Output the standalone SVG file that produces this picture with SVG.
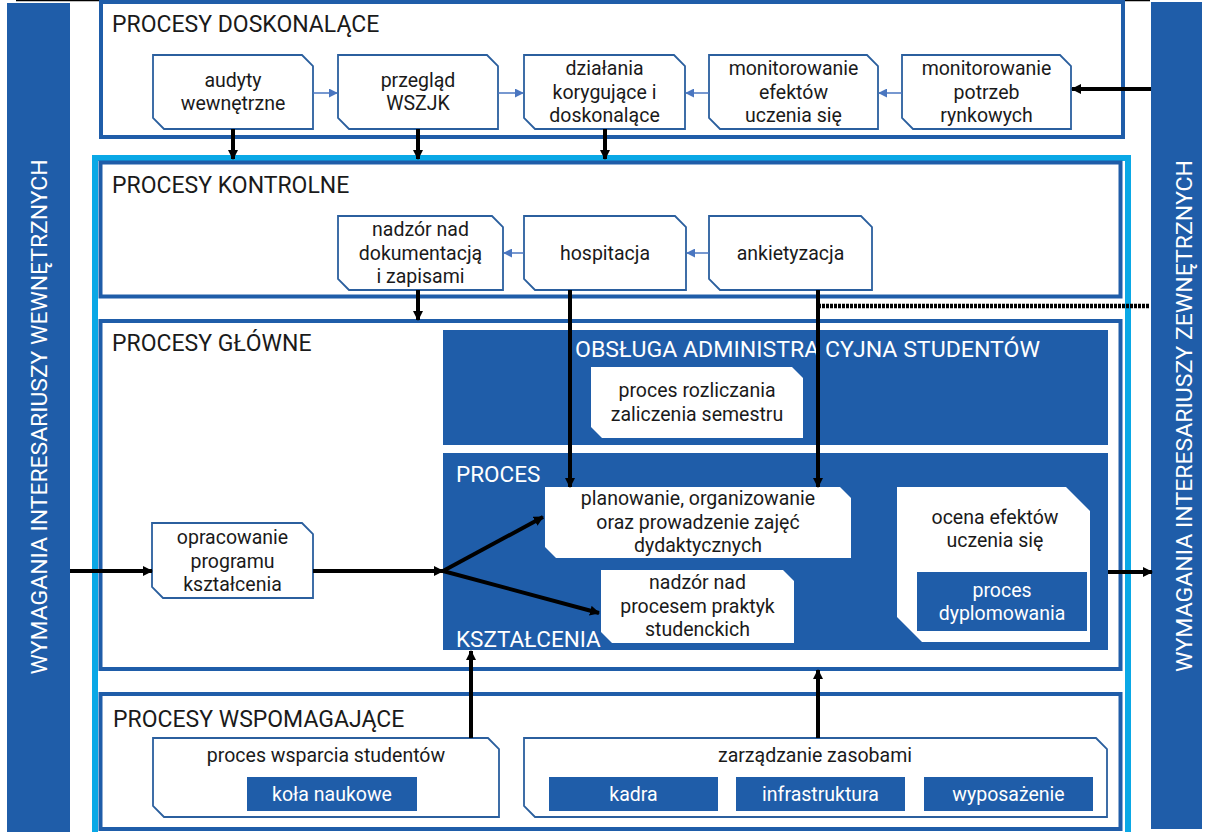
<svg xmlns="http://www.w3.org/2000/svg" width="1208" height="832" viewBox="0 0 1208 832">
<style>
.sec{fill:#fff;stroke:#1f5da9;stroke-width:4}
.node{fill:#fff;stroke:#2b5f9e;stroke-width:1.8}
.wnode{fill:#fff}
.bbox{fill:#1f5da9}
text{font-family:Roboto,"Liberation Sans",sans-serif;font-weight:400}
.t{font-size:19.5px;fill:#1a1a1a;text-anchor:middle}
.tw{font-size:19.5px;fill:#fff;text-anchor:middle}
.title{font-size:23px;fill:#1a1a1a}
.wtitle{font-size:22.5px;fill:#fff}
.side{font-size:22.5px;fill:#fff;text-anchor:middle}
.blk{stroke:#000;stroke-width:4;fill:none}
.blu{stroke:#4a76c0;stroke-width:1.5;fill:none}
</style>
<defs>
<marker id="ab" viewBox="0 0 10 10" refX="9" refY="5" markerWidth="10" markerHeight="10" markerUnits="userSpaceOnUse" orient="auto">
<path d="M0,0 L10,5 L0,10 Z" fill="#000"/>
</marker>
<marker id="au" viewBox="0 0 10 10" refX="9" refY="5" markerWidth="9" markerHeight="9" markerUnits="userSpaceOnUse" orient="auto">
<path d="M0,0 L10,5 L0,10 Z" fill="#4a76c0"/>
</marker>
</defs>
<rect width="1208" height="832" fill="#fff"/>
<line x1="16" y1="0.5" x2="1150" y2="0.5" stroke="#000" stroke-width="1.5"/>

<g id="left-panel">
<rect x="7" y="3" width="63" height="829" class="bbox"/>
<text class="side" transform="translate(47,417) rotate(-90)" textLength="515" lengthAdjust="spacingAndGlyphs">WYMAGANIA INTERESARIUSZY WEWNĘTRZNYCH</text>
</g>
<g id="right-panel">
<rect x="1151" y="2" width="51" height="827" class="bbox"/>
<text class="side" transform="translate(1192,416) rotate(-90)" textLength="512" lengthAdjust="spacingAndGlyphs">WYMAGANIA INTERESARIUSZY ZEWNĘTRZNYCH</text>
</g>

<g id="doskonalace">
<rect x="101" y="2" width="1022" height="135" class="sec"/>
<text class="title" x="112" y="31.5">PROCESY DOSKONALĄCE</text>
</g>

<g id="frame">
<rect x="95" y="158" width="1033" height="680" fill="none" stroke="#0aa8e6" stroke-width="6"/>
</g>
<g id="kontrolne">
<rect x="100.5" y="162.5" width="1020" height="134" class="sec"/>
<text class="title" x="112" y="193">PROCESY KONTROLNE</text>
</g>
<g id="glowne">
<rect x="100.5" y="321" width="1020" height="348" class="sec"/>
<text class="title" x="112" y="351">PROCESY GŁÓWNE</text>
</g>
<g id="wspomagajace">
<rect x="100.5" y="694" width="1020" height="135" class="sec"/>
<text class="title" x="113" y="727">PROCESY WSPOMAGAJĄCE</text>
</g>

<g id="n-audyty">
<path class="node" d="M153,55 H302 L313,66 V129 H164 L153,118 Z"/>
<text class="t" x="233" y="86.5">audyty</text>
<text class="t" x="233" y="110">wewnętrzne</text>
</g>
<g id="n-przeglad">
<path class="node" d="M338,55 H487 L498,66 V129 H349 L338,118 Z"/>
<text class="t" x="418" y="86.5">przegląd</text>
<text class="t" x="418" y="110">WSZJK</text>
</g>
<g id="n-dzialania">
<path class="node" d="M524,55 H674 L685,66 V129 H535 L524,118 Z"/>
<text class="t" x="604.5" y="75">działania</text>
<text class="t" x="604.5" y="98.5">korygujące i</text>
<text class="t" x="604.5" y="122">doskonalące</text>
</g>
<g id="n-monit-efekty">
<path class="node" d="M709,55 H867 L878,66 V129 H720 L709,118 Z"/>
<text class="t" x="793.5" y="75">monitorowanie</text>
<text class="t" x="793.5" y="98.5">efektów</text>
<text class="t" x="793.5" y="122">uczenia się</text>
</g>
<g id="n-monit-potrzeby">
<path class="node" d="M902,55 H1060 L1071,66 V129 H913 L902,118 Z"/>
<text class="t" x="986.5" y="75">monitorowanie</text>
<text class="t" x="986.5" y="98.5">potrzeb</text>
<text class="t" x="986.5" y="122">rynkowych</text>
</g>

<g id="n-nadzor-dok">
<path class="node" d="M338,216 H492 L503,227 V290 H349 L338,279 Z"/>
<text class="t" x="420.5" y="236">nadzór nad</text>
<text class="t" x="420.5" y="259.5">dokumentacją</text>
<text class="t" x="420.5" y="283">i zapisami</text>
</g>
<g id="n-hospitacja">
<path class="node" d="M524,216 H675 L686,227 V290 H535 L524,279 Z"/>
<text class="t" x="605" y="259.5">hospitacja</text>
</g>
<g id="n-ankietyzacja">
<path class="node" d="M709,216 H861 L872,227 V290 H720 L709,279 Z"/>
<text class="t" x="790.5" y="259.5">ankietyzacja</text>
</g>

<g id="obsluga">
<rect x="443" y="330" width="665" height="115" class="bbox"/>
<text class="wtitle" x="575" y="357" textLength="465" lengthAdjust="spacingAndGlyphs">OBSŁUGA ADMINISTRA CYJNA STUDENTÓW</text>
</g>
<g id="n-rozliczanie">
<path class="wnode" d="M591,367 H792 L803,378 V438 H602 L591,427 Z"/>
<text class="t" x="697" y="397">proces rozliczania</text>
<text class="t" x="697" y="420.5">zaliczenia semestru</text>
</g>

<g id="ksztalcenie">
<rect x="443" y="453" width="665" height="197" class="bbox"/>
<text class="wtitle" x="456" y="482">PROCES</text>
</g>
<g id="n-planowanie">
<path class="wnode" d="M545,487 H840 L851,498 V558 H556 L545,547 Z"/>
<text class="t" x="698" y="505">planowanie, organizowanie</text>
<text class="t" x="698" y="528.5">oraz prowadzenie zajęć</text>
<text class="t" x="698" y="552">dydaktycznych</text>
</g>
<g id="n-praktyki">
<path class="wnode" d="M601,570 H783 L794,581 V643 H612 L601,632 Z"/>
<text class="t" x="697.5" y="589">nadzór nad</text>
<text class="t" x="697.5" y="612.5">procesem praktyk</text>
<text class="t" x="697.5" y="636">studenckich</text>
</g>
<text class="wtitle" x="456" y="647">KSZTAŁCENIA</text>
<g id="n-ocena">
<path class="wnode" d="M897,487 H1066 L1090,511 V642 H922 L897,617 Z"/>
<text class="t" x="995" y="523.5">ocena efektów</text>
<text class="t" x="995" y="547">uczenia się</text>
<rect x="917" y="572" width="170" height="59" class="bbox"/>
<text class="tw" x="1002" y="597">proces</text>
<text class="tw" x="1002" y="620">dyplomowania</text>
</g>

<g id="n-opracowanie">
<path class="node" d="M152,523 H302 L313,534 V598 H163 L152,587 Z"/>
<text class="t" x="232.5" y="544">opracowanie</text>
<text class="t" x="232.5" y="567.5">programu</text>
<text class="t" x="232.5" y="591">kształcenia</text>
</g>

<g id="n-wsparcie">
<path class="node" d="M153,738 H488 L499,749 V817 H164 L153,806 Z"/>
<text class="t" x="326" y="762">proces wsparcia studentów</text>
<rect x="247" y="777" width="170" height="34" class="bbox"/>
<text class="tw" x="332" y="801">koła naukowe</text>
</g>
<g id="n-zasoby">
<path class="node" d="M524,738 H1096 L1107,749 V817 H535 L524,806 Z"/>
<text class="t" x="815" y="762">zarządzanie zasobami</text>
<rect x="549" y="777" width="169" height="34" class="bbox"/>
<text class="tw" x="633.5" y="801">kadra</text>
<rect x="736" y="777" width="169" height="34" class="bbox"/>
<text class="tw" x="820.5" y="801">infrastruktura</text>
<rect x="924" y="777" width="169" height="34" class="bbox"/>
<text class="tw" x="1008.5" y="801">wyposażenie</text>
</g>

<g id="connectors">
<line class="blu" x1="313" y1="93" x2="337" y2="93" marker-end="url(#au)"/>
<line class="blu" x1="498" y1="93" x2="523" y2="93" marker-end="url(#au)"/>
<line class="blu" x1="709" y1="93" x2="686" y2="93" marker-end="url(#au)"/>
<line class="blu" x1="902" y1="93" x2="879" y2="93" marker-end="url(#au)"/>
<line class="blu" x1="709" y1="253" x2="687" y2="253" marker-end="url(#au)"/>
<line class="blu" x1="524" y1="253" x2="504" y2="253" marker-end="url(#au)"/>

<line class="blk" x1="1151" y1="89" x2="1072" y2="89" marker-end="url(#ab)"/>
<line class="blk" x1="233" y1="129" x2="233" y2="159" marker-end="url(#ab)"/>
<line class="blk" x1="418" y1="129" x2="418" y2="159" marker-end="url(#ab)"/>
<line class="blk" x1="605" y1="129" x2="605" y2="159" marker-end="url(#ab)"/>
<line class="blk" x1="418" y1="290" x2="418" y2="320" marker-end="url(#ab)"/>
<line class="blk" x1="570" y1="290" x2="570" y2="487" marker-end="url(#ab)"/>
<line class="blk" x1="818" y1="290" x2="818" y2="487" marker-end="url(#ab)"/>
<line x1="818" y1="306" x2="1150" y2="306" stroke="#000" stroke-width="4.5" stroke-dasharray="3 1"/>
<line class="blk" x1="70" y1="571" x2="152" y2="571" marker-end="url(#ab)"/>
<line class="blk" x1="313" y1="571" x2="443" y2="571" marker-end="url(#ab)"/>
<line class="blk" x1="443" y1="571" x2="543" y2="517" marker-end="url(#ab)"/>
<line class="blk" x1="443" y1="571" x2="599" y2="613" marker-end="url(#ab)"/>
<line class="blk" x1="1108" y1="572" x2="1152" y2="572" marker-end="url(#ab)"/>
<line class="blk" x1="471" y1="738" x2="471" y2="651" marker-end="url(#ab)"/>
<line class="blk" x1="818" y1="738" x2="818" y2="670" marker-end="url(#ab)"/>
</g>
</svg>
